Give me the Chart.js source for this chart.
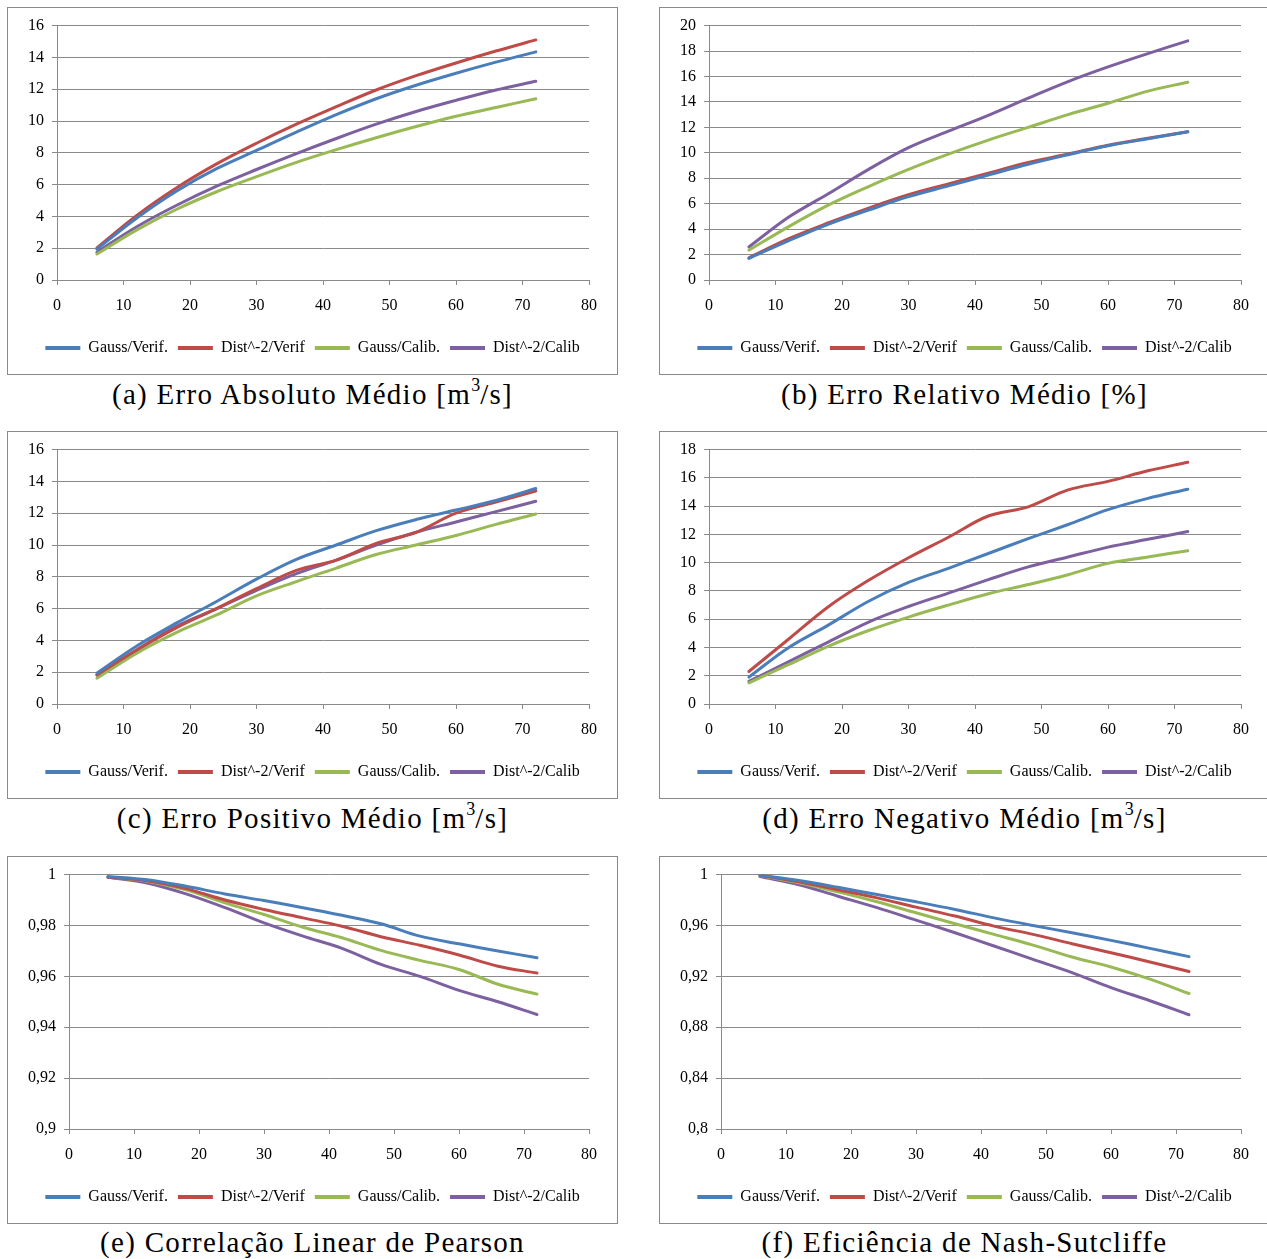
<!DOCTYPE html>
<html>
<head>
<meta charset="utf-8">
<script src="https://cdn.jsdelivr.net/npm/chart.js@4.4.1/dist/chart.umd.min.js"></script>
<style>
  body { margin:0; background:#fff; width:1267px; height:1259px; overflow:hidden; position:relative; font-family:'Liberation Serif', 'Times New Roman', serif; }
  .panel { position:absolute; width:609px; height:366px; border:1px solid #8a8a8a; background:#fff; }
  .panel canvas { display:block; }
  .cap { position:absolute; width:611px; text-align:center; font-size:29px; letter-spacing:1.3px; line-height:32px; color:#000; white-space:nowrap; }
  .cap sup { font-size:18px; line-height:0; vertical-align:13px; letter-spacing:0; }
</style>
</head>
<body>

<div class="panel" style="left:7px;top:7px;"><canvas id="ch-a" width="609" height="366"></canvas></div>
<div class="panel" style="left:659px;top:7px;"><canvas id="ch-b" width="609" height="366"></canvas></div>
<div class="panel" style="left:7px;top:431px;"><canvas id="ch-c" width="609" height="366"></canvas></div>
<div class="panel" style="left:659px;top:431px;"><canvas id="ch-d" width="609" height="366"></canvas></div>
<div class="panel" style="left:7px;top:856px;"><canvas id="ch-e" width="609" height="366"></canvas></div>
<div class="panel" style="left:659px;top:856px;"><canvas id="ch-f" width="609" height="366"></canvas></div>

<div class="cap" style="left:7px;top:378px;">(a) Erro Absoluto Médio [m<sup>3</sup>/s]</div>
<div class="cap" style="left:659px;top:378px;">(b) Erro Relativo Médio [%]</div>
<div class="cap" style="left:7px;top:802px;">(c) Erro Positivo Médio [m<sup>3</sup>/s]</div>
<div class="cap" style="left:659px;top:802px;">(d) Erro Negativo Médio [m<sup>3</sup>/s]</div>
<div class="cap" style="left:7px;top:1226px;">(e) Correlação Linear de Pearson</div>
<div class="cap" style="left:659px;top:1226px;">(f) Eficiência de Nash-Sutcliffe</div>

<script>
// distance (x) shared by every panel
const dist = [6, 12, 18, 24, 30, 36, 42, 48, 54, 60, 66, 72];
const seriesNames = ['Gauss/Verif.', 'Dist^-2/Verif', 'Gauss/Calib.', 'Dist^-2/Calib'];
const seriesColors = ['#4a7ebb', '#be4b48', '#98b954', '#7d60a0'];

// (a) Erro Absoluto Medio
const gaussVerifA = [1.94, 3.9, 5.6, 7.0, 8.15, 9.3, 10.4, 11.4, 12.25, 13.0, 13.7, 14.35];
const distVerifA  = [2.02, 4.06, 5.8, 7.3, 8.6, 9.8, 10.9, 11.95, 12.85, 13.65, 14.4, 15.1];
const gaussCalibA = [1.63, 3.15, 4.45, 5.55, 6.5, 7.4, 8.2, 8.95, 9.65, 10.3, 10.85, 11.4];
const distCalibA  = [1.75, 3.35, 4.7, 5.9, 6.95, 7.95, 8.9, 9.8, 10.6, 11.3, 11.95, 12.5];

// (b) Erro Relativo Medio
const gaussVerifB = [1.7, 3.1, 4.4, 5.5, 6.55, 7.4, 8.25, 9.1, 9.85, 10.55, 11.1, 11.65];
const distVerifB  = [1.75, 3.25, 4.5, 5.65, 6.7, 7.55, 8.4, 9.25, 9.9, 10.6, 11.15, 11.65];
const gaussCalibB = [2.35, 4.2, 5.9, 7.35, 8.7, 9.9, 11.0, 12.0, 13.0, 13.9, 14.85, 15.55];
const distCalibB  = [2.6, 4.95, 6.8, 8.7, 10.4, 11.7, 12.95, 14.3, 15.6, 16.75, 17.8, 18.8];

// (c) Erro Positivo Medio
const gaussVerifC = [1.94, 3.65, 5.1, 6.45, 7.85, 9.1, 10.0, 10.9, 11.6, 12.2, 12.8, 13.55];
const distVerifC  = [1.83, 3.4, 4.8, 6.0, 7.25, 8.4, 9.05, 10.1, 10.8, 12.0, 12.7, 13.4];
const gaussCalibC = [1.62, 3.2, 4.5, 5.6, 6.8, 7.7, 8.55, 9.4, 10.0, 10.6, 11.3, 11.95];
const distCalibC  = [1.83, 3.4, 4.9, 6.0, 7.15, 8.2, 9.05, 10.0, 10.8, 11.45, 12.1, 12.75];

// (d) Erro Negativo Medio
const gaussVerifD = [1.9, 4.0, 5.6, 7.27, 8.6, 9.6, 10.65, 11.7, 12.7, 13.75, 14.55, 15.2];
const distVerifD  = [2.3, 4.6, 6.9, 8.75, 10.35, 11.8, 13.3, 13.95, 15.15, 15.75, 16.5, 17.1];
const gaussCalibD = [1.5, 2.8, 4.1, 5.2, 6.15, 7.0, 7.8, 8.45, 9.15, 9.95, 10.4, 10.85];
const distCalibD  = [1.6, 3.0, 4.4, 5.8, 6.9, 7.85, 8.8, 9.7, 10.4, 11.1, 11.65, 12.2];

// (e) Correlacao Linear de Pearson
const gaussVerifE = [0.9993, 0.998, 0.9954, 0.9924, 0.9898, 0.987, 0.984, 0.9807, 0.9758, 0.9728, 0.970, 0.9673];
const distVerifE  = [0.999, 0.9976, 0.9945, 0.990, 0.9863, 0.983, 0.9797, 0.9756, 0.9722, 0.9684, 0.964, 0.9613];
const gaussCalibE = [0.999, 0.9974, 0.994, 0.9889, 0.9843, 0.9793, 0.9752, 0.9702, 0.9663, 0.9627, 0.9569, 0.953];
const distCalibE  = [0.999, 0.9967, 0.9924, 0.987, 0.981, 0.9758, 0.971, 0.9647, 0.960, 0.9545, 0.950, 0.945];

// (f) Eficiencia de Nash-Sutcliffe
const gaussVerifF = [0.9995, 0.9953, 0.990, 0.9843, 0.9786, 0.9726, 0.966, 0.960, 0.9543, 0.9483, 0.942, 0.9355];
const distVerifF  = [0.9995, 0.9943, 0.988, 0.9817, 0.9744, 0.9674, 0.9595, 0.953, 0.9457, 0.9386, 0.9313, 0.9238];
const gaussCalibF = [0.9992, 0.9935, 0.9864, 0.9786, 0.970, 0.9614, 0.953, 0.9446, 0.9352, 0.9274, 0.9178, 0.9065];
const distCalibF  = [0.9984, 0.992, 0.983, 0.974, 0.9642, 0.9543, 0.9439, 0.9334, 0.923, 0.9112, 0.9008, 0.8898];

const xTicks = { min: 0, max: 80, step: 10 };

const FONT = "'Liberation Serif', 'Times New Roman', serif";
const GRID = '#8a8a8a';
const comma = v => String(Math.round(v * 100) / 100).replace('.', ',');

// legend box spans only up to the right padding; nudge it so it is centred in the frame
const legendShift = {
  id: 'legendShift',
  afterLayout(chart) { const l = chart.legend; if (l) { l.left += 14; l.right += 14; } },
};

function draw(id, series, yMin, yMax, yStep, yAxisW, fmt) {
  const datasets = series.map((vals, i) => ({
    label: seriesNames[i],
    data: vals.map((v, j) => ({ x: dist[j], y: v })),
    borderColor: seriesColors[i], backgroundColor: seriesColors[i],
    borderWidth: 3, pointRadius: 0, tension: 0.35, borderCapStyle: 'round', borderJoinStyle: 'round',
  }));
  new Chart(document.getElementById(id), {
    type: 'line',
    data: { datasets },
    plugins: [legendShift],
    options: {
      responsive: false, animation: false,
      layout: { padding: { top: 17, right: 28, left: 0, bottom: 8 } },
      plugins: {
        tooltip: { enabled: false },
        legend: {
          position: 'bottom',
          labels: {
            color: '#000', boxWidth: 35, boxHeight: 4, padding: 10,
            font: { size: 16, family: FONT },
            generateLabels: ch => Chart.defaults.plugins.legend.labels.generateLabels(ch).map(l => ({ ...l, lineWidth: 0 })),
          },
        },
      },
      scales: {
        x: {
          type: 'linear', min: xTicks.min, max: xTicks.max,
          afterFit: s => { s.height = 50; },
          ticks: { stepSize: xTicks.step, color: '#000', padding: 11, font: { size: 16, family: FONT } },
          grid: { drawOnChartArea: false, drawTicks: true, tickLength: 5, color: GRID },
          border: { color: GRID },
        },
        y: {
          min: yMin, max: yMax,
          afterFit: s => { s.width = yAxisW; },
          ticks: { stepSize: yStep, color: '#000', padding: 8, font: { size: 16, family: FONT }, callback: fmt || (v => v) },
          grid: { color: GRID, tickLength: 5 },
          border: { color: GRID },
        },
      },
    },
  });
}

draw('ch-a', [gaussVerifA, distVerifA, gaussCalibA, distCalibA], 0, 16, 2, 49);
draw('ch-b', [gaussVerifB, distVerifB, gaussCalibB, distCalibB], 0, 20, 2, 49);
draw('ch-c', [gaussVerifC, distVerifC, gaussCalibC, distCalibC], 0, 16, 2, 49);
draw('ch-d', [gaussVerifD, distVerifD, gaussCalibD, distCalibD], 0, 18, 2, 49);
draw('ch-e', [gaussVerifE, distVerifE, gaussCalibE, distCalibE], 0.9, 1, 0.02, 61, comma);
draw('ch-f', [gaussVerifF, distVerifF, gaussCalibF, distCalibF], 0.8, 1, 0.04, 61, comma);
</script>
</body>
</html>
